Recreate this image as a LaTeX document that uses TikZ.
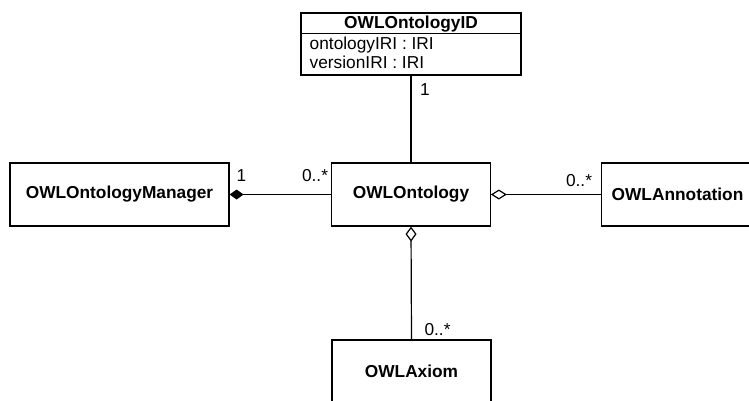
\documentclass[tikz,border=0pt]{standalone}
\usepackage{fontspec}
\setmainfont{Liberation Sans}
\usetikzlibrary{arrows.meta}
\begin{document}
\begin{tikzpicture}[x=1pt,y=-1pt,
  box/.style={draw,line width=1.2pt,inner sep=0pt,minimum height=63pt,font=\fontsize{17.3}{19}\selectfont\bfseries},
  lbl/.style={inner sep=0pt,anchor=base,font=\fontsize{17.3}{19}\selectfont},
  conn/.style={line width=1.2pt}]
\clip (0,0) rectangle (749,400);
% top class
\node[box,minimum width=220pt,minimum height=62pt] (id) at (411,44) {};
\node[lbl] (idt) at (411,28) {\bfseries OWLOntologyID};
\coordinate (sepL) at (301,33.5);
\coordinate (sepR) at (521,33.5);
\draw[line width=1.2pt] (sepL) -- (sepR);
\node[lbl,anchor=base west] (a1) at (309.5,49.5) {ontologyIRI : IRI};
\node[lbl,anchor=base west] (a2) at (309.5,68.5) {versionIRI : IRI};
% classes
\node[box,minimum width=219pt] (mgr) at (119.5,194.5) {OWLOntologyManager};
\node[box,minimum width=158.5pt] (ont) at (411,194.5) {OWLOntology};
\node[box,minimum width=152pt] (ann) at (677.5,194.5) {OWLAnnotation};
\node[box,minimum width=159pt] (axm) at (411.5,371.5) {OWLAxiom};
% connectors
\draw[conn] (id.south) -- (ont.north);
\draw[conn,{Diamond[length=14pt,width=10pt]}-] (mgr.east) -- (ont.west);
\draw[conn,{Diamond[open,length=16pt,width=10pt]}-] (ont.east) -- (ann.west);
\draw[conn,{Diamond[open,length=15pt,width=11pt]}-] (ont.south) -- (axm.north);
% multiplicities
\node[lbl] (m1) at (425,95) {1};
\node[lbl] (m2) at (241.5,181) {1};
\node[lbl] (m3) at (315,181) {0..*};
\node[lbl] (m4) at (579,186) {0..*};
\node[lbl] (m5) at (437.5,335) {0..*};
\end{tikzpicture}
\end{document}
